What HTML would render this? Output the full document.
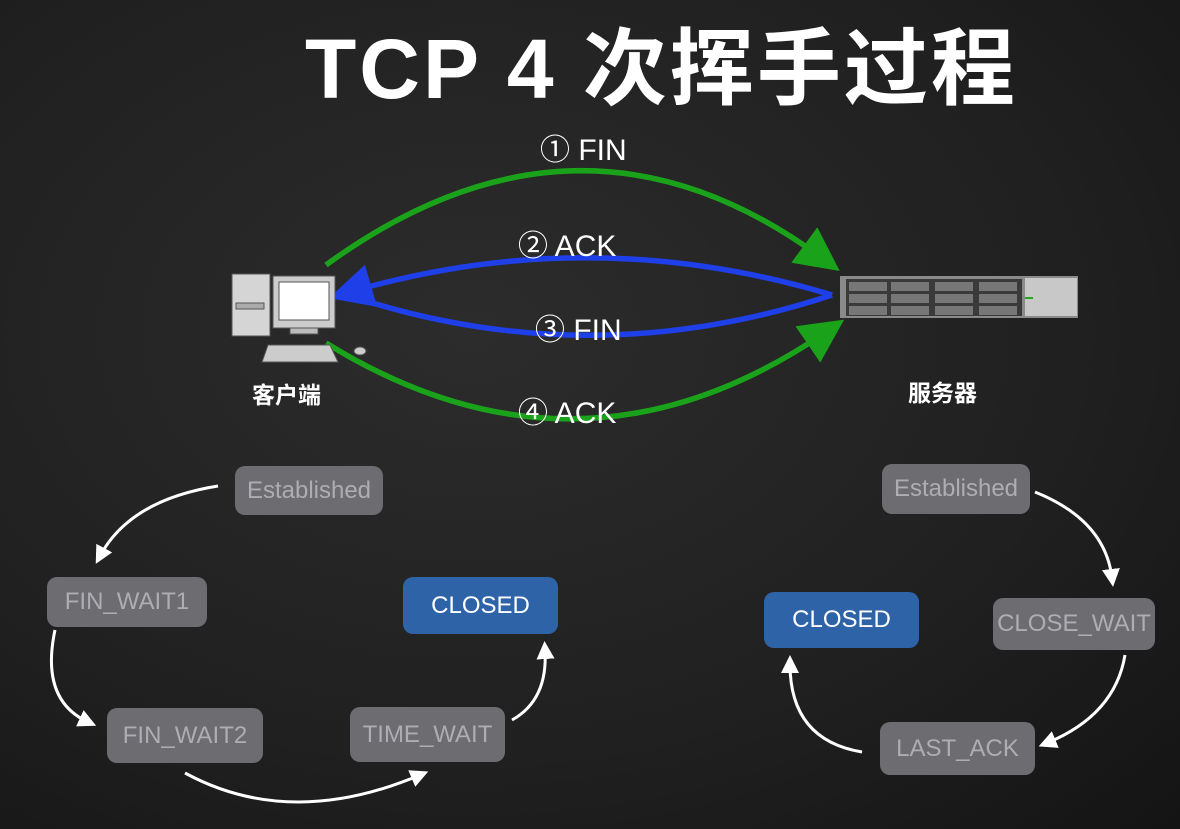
<!DOCTYPE html>
<html><head><meta charset="utf-8"><style>
html,body{margin:0;padding:0;}
body{width:1180px;height:829px;overflow:hidden;background:#1f1f1f;position:relative;font-family:"Liberation Sans","Noto Sans CJK SC",sans-serif;}
.box{position:absolute;background:#6d6c71;border-radius:10px;color:#aeadb2;font-size:24px;display:flex;align-items:center;justify-content:center;}
.blue{background:#2e63a8;color:#fff;}
.t{position:absolute;color:#fff;white-space:nowrap;}
</style></head><body>
<div style="position:absolute;inset:0;background:radial-gradient(ellipse at 40% 40%,#2c2c2c 0%,#202020 60%,#141414 100%);"></div>
<div class="t" style="left:305px;top:2px;font-size:84px;font-weight:bold;letter-spacing:3px;">TCP 4 次挥手过程</div>
<svg width="1180" height="829" style="position:absolute;left:0;top:0">
<defs>
<marker id="g" markerWidth="8" markerHeight="8" refX="4" refY="4" orient="auto" markerUnits="strokeWidth"><path d="M0,0 L8,4 L0,8 z" fill="#1aa31a"/></marker>
<marker id="b" markerWidth="8" markerHeight="8" refX="4" refY="4" orient="auto" markerUnits="strokeWidth"><path d="M0,0 L8,4 L0,8 z" fill="#1f3fe8"/></marker>
<marker id="w" markerWidth="6" markerHeight="6" refX="3" refY="3" orient="auto" markerUnits="strokeWidth"><path d="M0,0 L6,3 L0,6 z" fill="#fff"/></marker>
</defs>
<g fill="none" stroke-width="5.5">
<path d="M326,265 Q580,80 822,258" stroke="#1aa31a" marker-end="url(#g)"/>
<path d="M832,295 Q590,222 350,292" stroke="#1f3fe8" marker-end="url(#b)"/>
<path d="M832,295 Q590,375 350,296" stroke="#1f3fe8"/>
<path d="M326,343 Q580,500 826,332" stroke="#1aa31a" marker-end="url(#g)"/>
</g>
<g fill="none" stroke="#fff" stroke-width="3">
<path d="M218,486 Q130,500 100,556" marker-end="url(#w)"/>
<path d="M55,630 Q40,700 88,722" marker-end="url(#w)"/>
<path d="M185,773 Q290,830 420,775" marker-end="url(#w)"/>
<path d="M512,720 Q548,700 545,650" marker-end="url(#w)"/>
<path d="M1035,492 Q1105,520 1112,578" marker-end="url(#w)"/>
<path d="M1125,655 Q1115,715 1047,743" marker-end="url(#w)"/>
<path d="M862,752 Q790,740 790,664" marker-end="url(#w)"/>
</g>
<g stroke="#555" stroke-width="1">
<rect x="232" y="274" width="38" height="62" fill="#d5d5d5"/>
<rect x="236" y="303" width="28" height="6" fill="#aaa"/>
<rect x="273" y="276" width="62" height="52" fill="#ccc"/>
<rect x="279" y="282" width="50" height="38" fill="#fff"/>
<rect x="290" y="328" width="28" height="6" fill="#bbb"/>
<path d="M268,345 L330,345 L338,362 L262,362 Z" fill="#ccc"/>
<ellipse cx="360" cy="351" rx="6" ry="4" fill="#ccc"/>
</g>
<rect x="840" y="276" width="238" height="42" fill="#8a8a8a"/>
<rect x="846" y="279" width="176" height="37" fill="#3a3a3a"/>
<g fill="#777"><rect x="849" y="282" width="38" height="9"/><rect x="891" y="282" width="38" height="9"/><rect x="935" y="282" width="38" height="9"/><rect x="979" y="282" width="38" height="9"/>
<rect x="849" y="294" width="38" height="9"/><rect x="891" y="294" width="38" height="9"/><rect x="935" y="294" width="38" height="9"/><rect x="979" y="294" width="38" height="9"/>
<rect x="849" y="306" width="38" height="9"/><rect x="891" y="306" width="38" height="9"/><rect x="935" y="306" width="38" height="9"/><rect x="979" y="306" width="38" height="9"/></g>
<rect x="1025" y="278" width="52" height="38" fill="#c8c8c8"/>
<rect x="1025" y="297" width="8" height="2" fill="#2a2"/>
</svg>
<div class="t" style="left:540px;top:125px;font-size:30px;">① FIN</div>
<div class="t" style="left:518px;top:221px;font-size:30px;">② ACK</div>
<div class="t" style="left:535px;top:305px;font-size:30px;">③ FIN</div>
<div class="t" style="left:518px;top:388px;font-size:30px;">④ ACK</div>
<div class="t" style="left:252px;top:376px;font-size:23px;font-weight:bold;">客户端</div>
<div class="t" style="left:908px;top:374px;font-size:23px;font-weight:bold;">服务器</div>
<div class="box" style="left:235px;top:466px;width:148px;height:49px;">Established</div>
<div class="box" style="left:47px;top:577px;width:160px;height:50px;">FIN_WAIT1</div>
<div class="box" style="left:107px;top:708px;width:156px;height:55px;">FIN_WAIT2</div>
<div class="box" style="left:350px;top:707px;width:155px;height:55px;">TIME_WAIT</div>
<div class="box blue" style="left:403px;top:577px;width:155px;height:57px;">CLOSED</div>
<div class="box" style="left:882px;top:464px;width:148px;height:50px;">Established</div>
<div class="box" style="left:993px;top:598px;width:162px;height:52px;">CLOSE_WAIT</div>
<div class="box blue" style="left:764px;top:592px;width:155px;height:56px;">CLOSED</div>
<div class="box" style="left:880px;top:722px;width:155px;height:53px;">LAST_ACK</div>
</body></html>
